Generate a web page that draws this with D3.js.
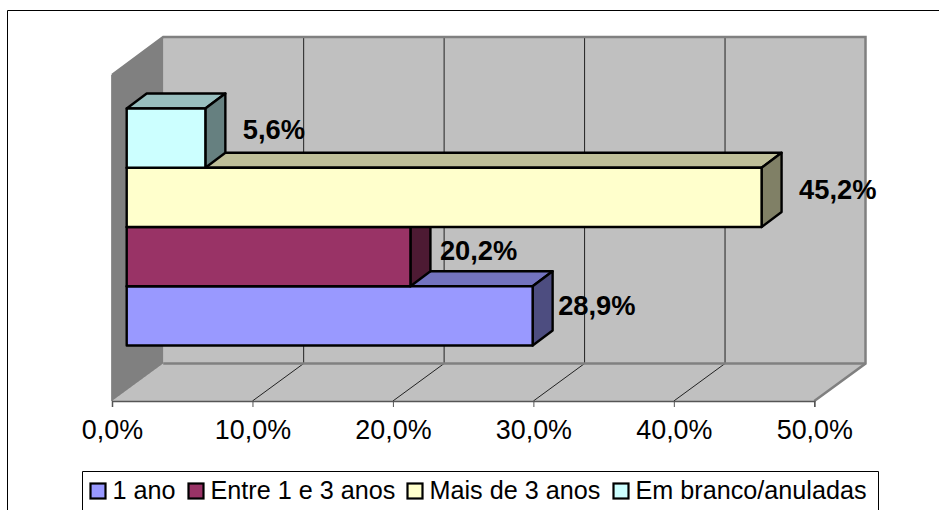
<!DOCTYPE html>
<html><head><meta charset="utf-8">
<script src="https://cdn.jsdelivr.net/npm/d3@7"></script>
<style>html,body{margin:0;padding:0;background:#fff;overflow:hidden}svg{display:block}text{font-family:"Liberation Sans",Arial,sans-serif}</style>
</head><body><svg id="c" width="939" height="510"></svg>
<script>
const categories = ["1 ano","Entre 1 e 3 anos","Mais de 3 anos","Em branco/anuladas"];
const values = [28.9,20.2,45.2,5.6];
const valueLabels = ["28,9%","20,2%","45,2%","5,6%"];
const barColors = ["#9999FF","#993366","#FFFFCC","#CCFFFF"];
const tickValues = [0,10,20,30,40,50];
const tickLabels = ["0,0%","10,0%","20,0%","30,0%","40,0%","50,0%"];

const svg = d3.select("#c");
// frame
svg.append("path").attr("d","M7.5 510V10.5H939").attr("fill","none").attr("stroke","#000").attr("stroke-width",1);

const x = d3.scaleLinear().domain([0,50]).range([112,814.3]);
const floorY = 401, depthX = 51.2, depthY = 37.5, wallTop = 37;
const bx = v => x(v)+depthX, by = floorY-depthY;
const pts = a => a.map(p=>p.join(",")).join(" ");

// walls
svg.append("polygon").attr("points",pts([[x(0),75],[bx(0),wallTop],[bx(0),by],[x(0),floorY]])).attr("fill","#808080").attr("stroke","#808080").attr("stroke-width",1);
svg.append("rect").attr("x",bx(0)).attr("y",wallTop).attr("width",x(50)-x(0)).attr("height",by-wallTop).attr("fill","#C0C0C0");
svg.append("polygon").attr("points",pts([[x(0),floorY],[bx(0),by],[bx(50),by],[x(50),floorY]])).attr("fill","#C0C0C0");
// gridlines
svg.selectAll(".g").data(tickValues.slice(1,-1)).enter().append("path")
  .attr("d",v=>`M${x(v)} ${floorY}L${bx(v)} ${by}V${wallTop}`).attr("fill","none").attr("stroke","#222").attr("stroke-width",1);
// wall borders
svg.append("path").attr("d",`M${x(0)} 75L${bx(0)} ${wallTop}H${bx(50)}V${by}L${x(50)} ${floorY}`).attr("fill","none").attr("stroke","#808080").attr("stroke-width",2.5);
svg.append("path").attr("d",`M${bx(0)} ${by}H${bx(50)}`).attr("stroke","#808080").attr("stroke-width",2.5);
svg.append("path").attr("d",`M${x(0)} 75V${floorY}`).attr("stroke","#808080").attr("stroke-width",1.5);
// axis
const axis = d3.axisBottom(x).tickValues(tickValues).tickFormat((d,i)=>tickLabels[i]).tickSize(6).tickPadding(13);
const ax = svg.append("g").attr("transform",`translate(0,${floorY})`).call(axis);
ax.select(".domain").attr("stroke","#555").attr("stroke-width",1.5);
ax.selectAll(".tick line").attr("stroke","#555");
ax.selectAll("text").attr("font-size",26.9).attr("fill","#000").attr("font-family","Liberation Sans");

// bars
const barShift = 14.7, bdx = 20, bdy = 15;
const bX = v => x(v)+barShift;
const y = d3.scaleBand().domain(categories).range([345.5,108.5]);
const shade = (c,k)=>{const r=d3.rgb(c);return d3.rgb(r.r*k,r.g*k,r.b*k).formatHex();};
const bars = svg.selectAll(".bar").data(categories).enter().append("g");
bars.each(function(c,i){
  const g=d3.select(this), t=y(c), b=t+y.bandwidth(), x0=bX(0), x1=bX(values[i]);
  const st=s=>s.attr("stroke","#000").attr("stroke-width",2.4).attr("stroke-linejoin","round");
  st(g.append("polygon").attr("points",pts([[x0,t],[x0+bdx,t-bdy],[x1+bdx,t-bdy],[x1,t]])).attr("fill",shade(barColors[i],.75)));
  st(g.append("polygon").attr("points",pts([[x1,t],[x1+bdx,t-bdy],[x1+bdx,b-bdy],[x1,b]])).attr("fill",shade(barColors[i],.5)));
  st(g.append("rect").attr("x",x0).attr("y",t).attr("width",x1-x0).attr("height",b-t).attr("fill",barColors[i]));
});
// data labels
const labelGap = [25.5,29.5,37.5,37.5], labelMid=[305,250.5,189,129];
svg.selectAll(".dl").data(valueLabels).enter().append("text")
  .attr("x",(d,i)=>bX(values[i])+labelGap[i]).attr("y",(d,i)=>labelMid[i]+9.5)
  .attr("font-size",27.3).attr("font-weight","bold").attr("fill","#000").text(d=>d);

// legend
svg.append("path").attr("d","M82.5 510V471.5H878.5V510").attr("fill","#fff").attr("stroke","#000").attr("stroke-width",1);
const swatchX=[90.5,188.5,407.5,613.5], textX=[112.5,210.5,429.5,635.5];
categories.forEach((c,i)=>{
  svg.append("rect").attr("x",swatchX[i]).attr("y",483.5).attr("width",15).attr("height",15).attr("fill",barColors[i]).attr("stroke","#000").attr("stroke-width",2.2);
  svg.append("text").attr("x",textX[i]).attr("y",499).attr("font-size",25.2).attr("fill","#000").text(c);
});
</script></body></html>
